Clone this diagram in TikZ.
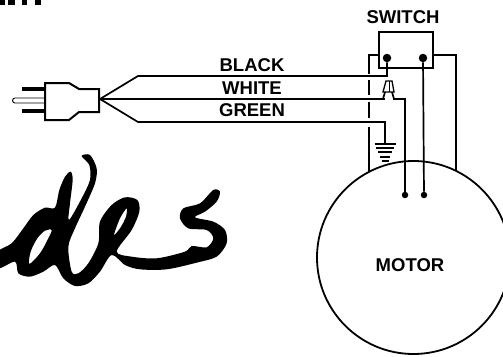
\documentclass[tikz,border=0pt]{standalone}
\usepackage{fontspec}
\setmainfont{Liberation Sans}
\usetikzlibrary{calc, positioning}
\tikzset{
	wire/.style={line width=1.7pt},
	heavywire/.style={line width=2pt},
	dotend/.style={circle,fill=black,inner sep=0pt,minimum size=6.5pt},
	termdot/.style={circle,fill=black,inner sep=0pt,minimum size=8.5pt},
	wirelabel/.style={font=\bfseries\fontsize{18.5}{18.5}\selectfont,inner sep=0pt},
	groundbar/.style={line width=2pt}
}
\begin{document}
\begin{tikzpicture}[x=1pt,y=-1pt]
	\useasboundingbox (0,0) rectangle (503,356);
	\coordinate (plugtl) at (45,83);
	\coordinate (plugbl) at (45,120);
	\coordinate (join) at (100,99);
	\coordinate (blackbend) at (138,76);
	\coordinate (greenbend) at (138,122);
	\coordinate (blackend) at (387,76);
	\coordinate (whiteend) at (383,99);
	\coordinate (greenend) at (385,122);
	\coordinate (groundtop) at (385,144);
	\node[draw,circle,line width=1.8pt,minimum size=193pt,inner sep=0pt] (motor) at (413.5,257.5) {};
	\node[wirelabel] (motorlabel) at (410,265) {MOTOR};
	\node[wirelabel] (switchlabel) at (403,17) {SWITCH};
	\node[wirelabel] (blacklabel) at (252,65) {BLACK};
	\node[wirelabel] (whitelabel) at (252,88) {WHITE};
	\node[wirelabel] (greenlabel) at (252,110) {GREEN};
	% switch
	\draw[heavywire] (379,32) rectangle (433,68);
	\node[termdot] (termleft) at (387,58) {};
	\node[termdot] (termright) at (423,58) {};
	\node[dotend] (motorleft) at (405,195) {};
	\node[dotend] (motorright) at (424,195) {};
	% plug
	\draw[line width=2pt,fill=white] (plugtl) -- (69,83) -- (79,89) -- (99,89) -- (99,112) -- (79,112) -- (69,120) -- (plugbl) -- cycle;
	\draw[line width=3.5pt] (22,89) -- (45,89);
	\draw[line width=3.5pt] (22,111) -- (45,111);
	\draw[line width=.9pt] (45,98) -- (15,98) arc (270:90:2.5) -- (45,103);
	% wires
	\draw[wire] (join) -- (blackbend) -- (blackend) -- (termleft);
	\draw[wire] (join) -- (whiteend) -- (385,99);
	\draw[wire] (join) -- (greenbend) -- (greenend) -- (groundtop);
	\draw[wire] (393,99) -- (405,99) -- (motorleft);
	\draw[wire] (termright) -- (motorright);
	% wire nut
	\draw[line width=1.3pt] (383,92) -- (386,81) -- (392,81) -- (394,92) -- cycle;
	\draw[line width=1pt] (389,81) -- (389,92);
	\draw[wire] (385,92) -- (383,99);
	\draw[wire] (392,92) -- (394,99);
	% motor feed
	\draw[wire] (379,55) -- (369,55) -- (369,74);
	\draw[wire] (369,80) -- (369,95);
	\draw[wire] (369,102) -- (369,118);
	\draw[wire] (369,127) -- (369,172);
	\draw[wire] (433,55) -- (456,55) -- (456,171);
	% ground
	\foreach \y/\w in {144/10.5,148/9,152/7,157/5,161/3.5}
		\draw[groundbar] (385-\w,\y) -- (385+\w,\y);
	% signature
	\begin{scope}[x=.3333pt,y=-.3333pt,yshift=-140pt]
		\fill[even odd rule] plot[smooth cycle,tension=.5] coordinates {(-6,335) (35,310) (70,265) (100,225) (135,203) (165,203) (178,150) (195,110) (212,95) (218,120) (210,190) (207,240) (245,175) (270,120) (268,75) (245,48) (270,45) (290,85) (285,130) (255,200) (225,265) (205,320) (215,395) (235,400) (265,370) (295,310) (300,245) (335,195) (375,172) (412,180) (418,215) (395,270) (350,335) (395,350) (470,355) (555,335) (575,318) (620,322) (640,295) (620,270) (565,265) (540,235) (550,205) (600,190) (640,150) (660,155) (650,185) (615,215) (585,232) (640,245) (675,270) (680,310) (650,350) (590,368) (500,388) (420,388) (375,375) (335,345) (300,395) (265,430) (225,438) (190,415) (165,375) (130,395) (90,410) (55,400) (45,365) (-6,385)}
		plot[smooth cycle,tension=.5] coordinates {(155,270) (145,295) (120,340) (88,372) (92,335) (112,295) (135,272)}
		plot[smooth cycle,tension=.5] coordinates {(380,205) (360,235) (342,285) (362,262) (378,230)};
	\end{scope}
	% cropped title
	\foreach \a/\b in {0/5,8/15,22/27,35/41}
		\fill (\a,0) rectangle (\b,5);
\end{tikzpicture}
\end{document}
